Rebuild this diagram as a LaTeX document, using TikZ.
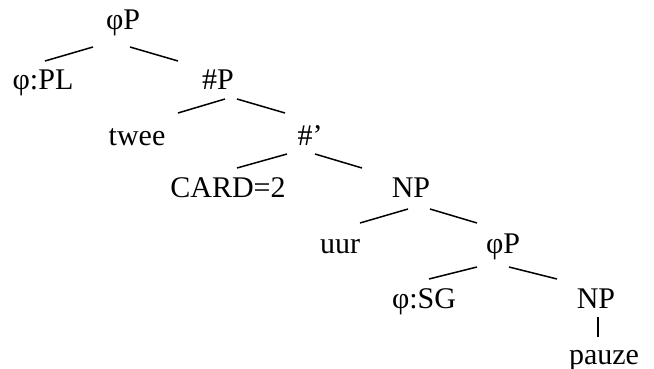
\documentclass[tikz,border=0pt]{standalone}
\usepackage{fontspec}
\setmainfont{Liberation Serif}
\begin{document}
\begin{tikzpicture}[x=1pt,y=-1pt,
  lab/.style={anchor=base,inner sep=0pt,font=\fontsize{30}{35}\selectfont},
  edge/.style={line width=1.5pt}]
\useasboundingbox (0,0) rectangle (654,369);
\node[lab] (r)   at (123,30)  {φP};
\node[lab] (pl)  at (43,89)   {φ:PL};
\node[lab] (hp)  at (218,89)  {\#P};
\node[lab] (tw)  at (137,146) {twee};
\node[lab] (hb)  at (310,146) {\#’};
\node[lab] (cd)  at (228,197) {CARD=2};
\node[lab] (np1) at (411,197) {NP};
\node[lab] (uu)  at (340,253) {uur};
\node[lab] (fp)  at (503,253) {φP};
\node[lab] (sg)  at (424,308) {φ:SG};
\node[lab] (np2) at (596,308) {NP};
\node[lab] (pz)  at (604,364) {pauze};
% connector ends
\coordinate (r-l) at (93,47);   \coordinate (pl-t) at (45,61);
\coordinate (r-r) at (130,47);  \coordinate (hp-t) at (178,61);
\coordinate (hp-l) at (225,99); \coordinate (tw-t) at (178,113);
\coordinate (hp-r) at (237,99); \coordinate (hb-t) at (285,113);
\coordinate (hb-l) at (287,154);\coordinate (cd-t) at (237,168);
\coordinate (hb-r) at (315,154);\coordinate (np1-t) at (362,168);
\coordinate (np1-l) at (408,209);\coordinate (uu-t) at (360,223);
\coordinate (np1-r) at (430,209);\coordinate (fp-t) at (477,223);
\coordinate (fp-l) at (477,267);\coordinate (sg-t) at (429,279);
\coordinate (fp-r) at (509,267);\coordinate (np2-t) at (557,279);
\coordinate (np2-b) at (598,317);\coordinate (pz-t) at (598,337);
\draw[edge] (r-l) -- (pl-t);
\draw[edge] (r-r) -- (hp-t);
\draw[edge] (hp-l) -- (tw-t);
\draw[edge] (hp-r) -- (hb-t);
\draw[edge] (hb-l) -- (cd-t);
\draw[edge] (hb-r) -- (np1-t);
\draw[edge] (np1-l) -- (uu-t);
\draw[edge] (np1-r) -- (fp-t);
\draw[edge] (fp-l) -- (sg-t);
\draw[edge] (fp-r) -- (np2-t);
\draw[edge] (np2-b) -- (pz-t);
\end{tikzpicture}
\end{document}
